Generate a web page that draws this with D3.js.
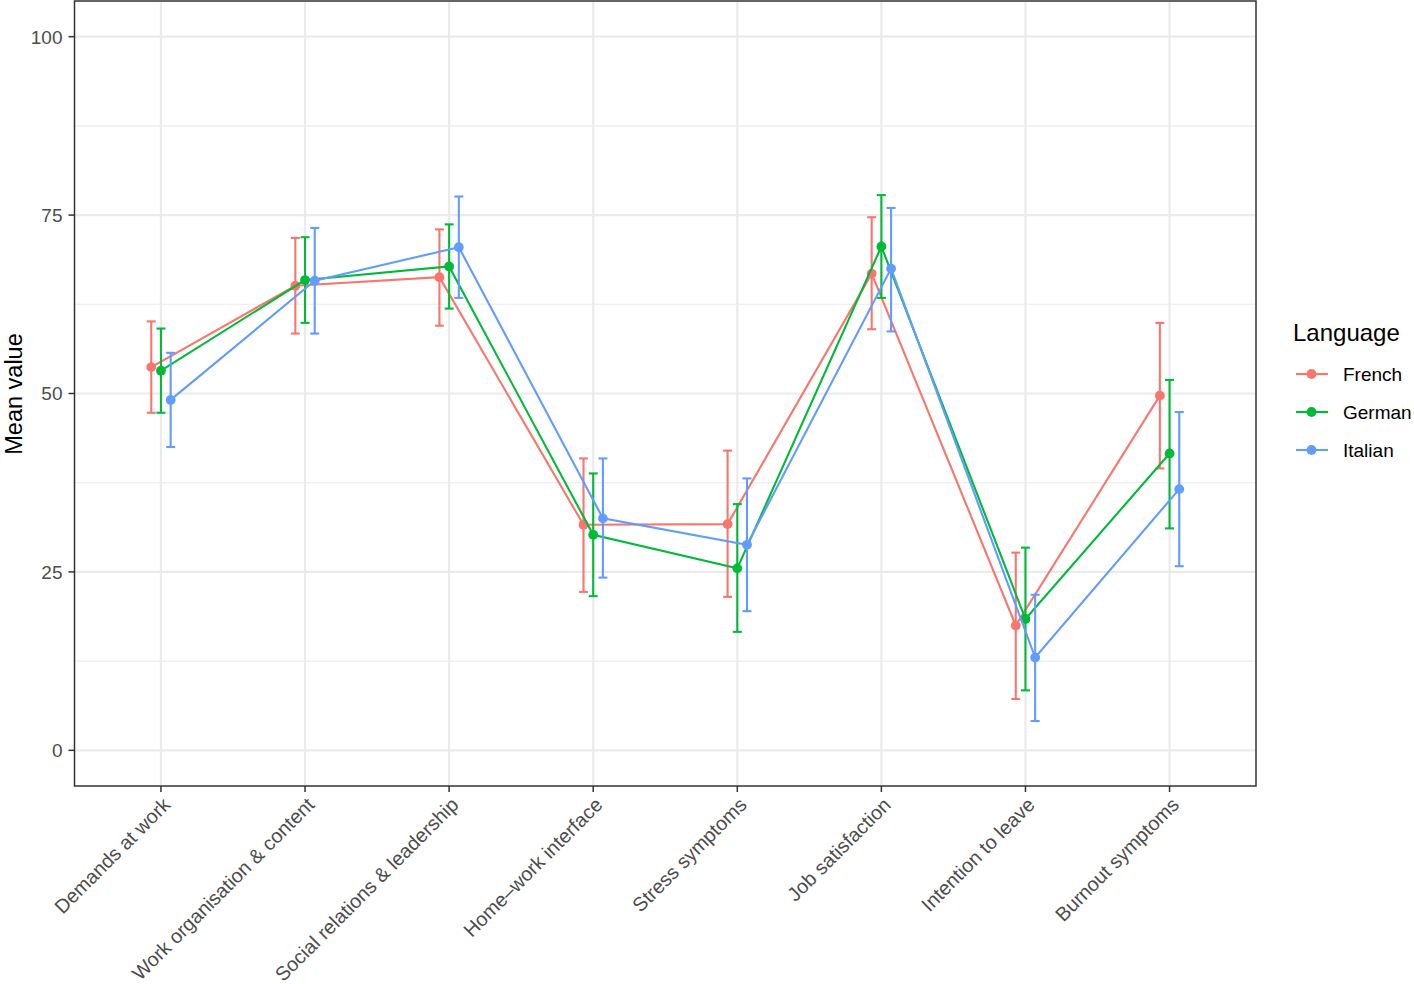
<!DOCTYPE html>
<html>
<head>
<meta charset="utf-8">
<script src="https://cdn.jsdelivr.net/npm/d3@7"></script>
<style>
  body { margin: 0; background: #fff; }
  svg { font-family: "Liberation Sans", Arial, Helvetica, sans-serif; }
</style>
</head>
<body>
<div id="chart"></div>
<script>
// Data
const categories = ["Demands at work", "Work organisation & content", "Social relations & leadership",
  "Home\u2013work interface", "Stress symptoms", "Job satisfaction", "Intention to leave", "Burnout symptoms"];
const languages = ["French", "German", "Italian"];
const colors = ["#F8766D", "#00BA38", "#619CFF"];

const frenchMean = [53.7, 65.1, 66.3, 31.6, 31.7, 66.8, 17.5, 49.7];
const frenchLow  = [47.3, 58.4, 59.5, 22.2, 21.5, 59.0, 7.2, 39.5];
const frenchHigh = [60.1, 71.8, 73.0, 40.9, 42.0, 74.7, 27.7, 59.9];

const germanMean = [53.2, 65.9, 67.8, 30.2, 25.5, 70.6, 18.4, 41.6];
const germanLow  = [47.3, 59.9, 61.9, 21.6, 16.6, 63.4, 8.4, 31.1];
const germanHigh = [59.1, 71.9, 73.7, 38.8, 34.5, 77.8, 28.4, 51.9];

const italianMean = [49.1, 65.8, 70.5, 32.5, 28.8, 67.5, 13.0, 36.6];
const italianLow  = [42.5, 58.4, 63.4, 24.2, 19.5, 58.7, 4.1, 25.8];
const italianHigh = [55.7, 73.2, 77.6, 40.9, 38.1, 76.0, 21.8, 47.4];

const yTicks = [0, 25, 50, 75, 100];
const yMinor = [12.5, 37.5, 62.5, 87.5];

const series = [
  { key: "French", mean: frenchMean, low: frenchLow, high: frenchHigh },
  { key: "German", mean: germanMean, low: germanLow, high: germanHigh },
  { key: "Italian", mean: italianMean, low: italianLow, high: italianHigh }
];

// Layout
const W = 1414, H = 984;
const panel = { left: 74.5, right: 1256, top: 1, bottom: 786 };
const tickFont = 19, xTickFont = 19.8, titleFont = 24;

const svg = d3.select("#chart").append("svg")
    .attr("width", W)
    .attr("height", H);

// Scales
const x = d3.scalePoint()
    .domain(categories)
    .range([panel.left, panel.right])
    .padding(0.6);
const y = d3.scaleLinear().domain([-5, 105]).range([panel.bottom, panel.top]);
const color = d3.scaleOrdinal().domain(languages).range(colors);
const dodge = d3.scalePoint().domain(languages).range([-9.7, 9.7]);

// Grid
const grid = svg.append("g");
grid.selectAll(".minor").data(yMinor).enter().append("line")
    .attr("x1", panel.left).attr("x2", panel.right)
    .attr("y1", d => y(d)).attr("y2", d => y(d))
    .attr("stroke", "#ebebeb").attr("stroke-width", 1.1);
grid.selectAll(".major").data(yTicks).enter().append("line")
    .attr("x1", panel.left).attr("x2", panel.right)
    .attr("y1", d => y(d)).attr("y2", d => y(d))
    .attr("stroke", "#ebebeb").attr("stroke-width", 2.2);
grid.selectAll(".vmajor").data(categories).enter().append("line")
    .attr("x1", d => x(d)).attr("x2", d => x(d))
    .attr("y1", panel.top).attr("y2", panel.bottom)
    .attr("stroke", "#ebebeb").attr("stroke-width", 2.2);

// Series
const line = d3.line()
    .x(d => x(d.cat) + dodge(d.lang))
    .y(d => y(d.mean));

series.forEach(s => {
  const pts = categories.map((c, i) => ({ cat: c, lang: s.key, mean: s.mean[i], low: s.low[i], high: s.high[i] }));
  const g = svg.append("g").attr("stroke", color(s.key)).attr("fill", color(s.key));
  const px = d => x(d.cat) + dodge(d.lang);

  // error bars
  const eb = g.selectAll(".eb").data(pts).enter().append("g");
  eb.append("line")
      .attr("x1", px).attr("x2", px)
      .attr("y1", d => y(d.low)).attr("y2", d => y(d.high))
      .attr("stroke-width", 2.1);
  eb.append("line")
      .attr("x1", d => px(d) - 4.5).attr("x2", d => px(d) + 4.5)
      .attr("y1", d => y(d.low)).attr("y2", d => y(d.low))
      .attr("stroke-width", 2.1);
  eb.append("line")
      .attr("x1", d => px(d) - 4.5).attr("x2", d => px(d) + 4.5)
      .attr("y1", d => y(d.high)).attr("y2", d => y(d.high))
      .attr("stroke-width", 2.1);

  g.append("path")
      .attr("d", line(pts))
      .attr("fill", "none")
      .attr("stroke-width", 2.1);

  g.selectAll("circle").data(pts).enter().append("circle")
      .attr("cx", px).attr("cy", d => y(d.mean))
      .attr("r", 4.9)
      .attr("stroke", "none");
});

// Panel border
svg.append("rect")
    .attr("x", panel.left).attr("y", panel.top)
    .attr("width", panel.right - panel.left).attr("height", panel.bottom - panel.top)
    .attr("fill", "none").attr("stroke", "#333333").attr("stroke-width", 1.5);

// Y axis
const yAxis = svg.append("g");
yAxis.selectAll("line").data(yTicks).enter().append("line")
    .attr("x1", panel.left - 6).attr("x2", panel.left)
    .attr("y1", d => y(d)).attr("y2", d => y(d))
    .attr("stroke", "#333333").attr("stroke-width", 1.5);
yAxis.selectAll("text").data(yTicks).enter().append("text")
    .attr("x", panel.left - 12).attr("y", d => y(d))
    .attr("dy", "0.36em")
    .attr("text-anchor", "end")
    .attr("font-size", tickFont)
    .attr("fill", "#4d4d4d")
    .text(d => d);

// X axis
const xAxis = svg.append("g");
xAxis.selectAll("line").data(categories).enter().append("line")
    .attr("x1", d => x(d)).attr("x2", d => x(d))
    .attr("y1", panel.bottom).attr("y2", panel.bottom + 6)
    .attr("stroke", "#333333").attr("stroke-width", 1.5);
xAxis.selectAll("text").data(categories).enter().append("text")
    .attr("transform", d => `translate(${x(d) + 0.5}, ${panel.bottom + 10}) rotate(-45)`)
    .attr("text-anchor", "end")
    .attr("dy", "0.72em")
    .attr("font-size", xTickFont)
    .attr("fill", "#4d4d4d")
    .text(d => d);

// Axis title
svg.append("text")
    .attr("transform", `translate(22, 394) rotate(-90)`)
    .attr("text-anchor", "middle")
    .attr("font-size", 23.5)
    .attr("fill", "#000")
    .text("Mean value");

// Legend
const legend = svg.append("g").attr("transform", "translate(1293, 0)");
legend.append("text")
    .attr("x", 0).attr("y", 341)
    .attr("font-size", titleFont)
    .attr("fill", "#000")
    .text("Language");
const items = legend.selectAll(".item").data(languages).enter().append("g")
    .attr("transform", (d, i) => `translate(0, ${374 + i * 38})`);
items.append("line")
    .attr("x1", 3).attr("x2", 35).attr("y1", 0).attr("y2", 0)
    .attr("stroke", d => color(d)).attr("stroke-width", 2.1);
items.append("circle")
    .attr("cx", 18.5).attr("cy", 0).attr("r", 4.9)
    .attr("fill", d => color(d));
items.append("text")
    .attr("x", 50).attr("y", 0).attr("dy", "0.36em")
    .attr("font-size", tickFont)
    .attr("fill", "#000")
    .text(d => d);
</script>
</body>
</html>
